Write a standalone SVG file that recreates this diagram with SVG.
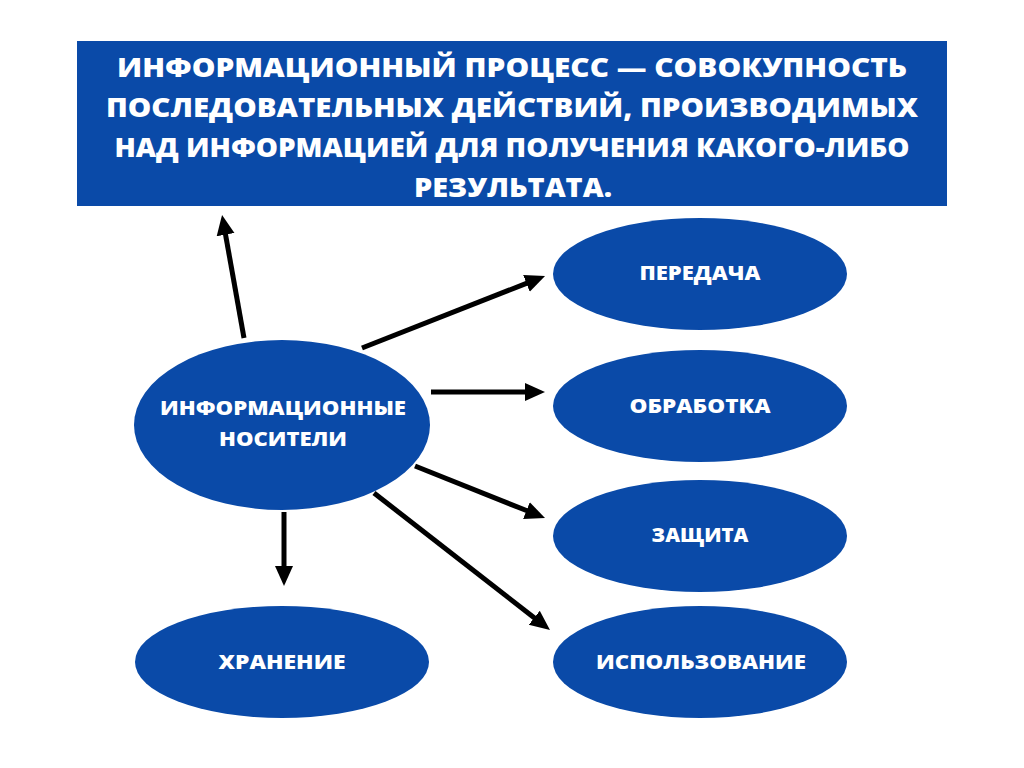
<svg xmlns="http://www.w3.org/2000/svg" width="1024" height="768" viewBox="0 0 1024 768">
<style>
.node{fill:#0a4aa8}
.t{fill:#ffffff;font-family:"Open Sans","DejaVu Sans",sans-serif;font-weight:800;text-anchor:middle;dominant-baseline:central}
.h{font-size:27px}
.n{font-size:20px}
.c{stroke:#000;stroke-width:5;fill:none;marker-end:url(#ah)}
</style>
<defs>
<marker id="ah" markerUnits="userSpaceOnUse" markerWidth="20" markerHeight="20" viewBox="0 0 20 20" refX="2" refY="10" orient="auto">
<path d="M0,1 L20,10 L0,19 z" fill="#000"/>
</marker>
</defs>
<rect width="1024" height="768" fill="#ffffff"/>
<g id="header">
<rect class="node" x="77" y="41" width="870" height="165"/>
<text class="t h" x="512" y="66" textLength="790" lengthAdjust="spacingAndGlyphs">ИНФОРМАЦИОННЫЙ ПРОЦЕСС — СОВОКУПНОСТЬ</text>
<text class="t h" x="512" y="106" textLength="812" lengthAdjust="spacingAndGlyphs">ПОСЛЕДОВАТЕЛЬНЫХ ДЕЙСТВИЙ, ПРОИЗВОДИМЫХ</text>
<text class="t h" x="512" y="146" textLength="795" lengthAdjust="spacingAndGlyphs">НАД ИНФОРМАЦИЕЙ ДЛЯ ПОЛУЧЕНИЯ КАКОГО-ЛИБО</text>
<text class="t h" x="513" y="186" textLength="198" lengthAdjust="spacingAndGlyphs">РЕЗУЛЬТАТА.</text>
</g>
<g id="connectors">
<path class="c" d="M244,338 L225.2,232.7"/>
<path class="c" d="M362,348 L528.3,282.6"/>
<path class="c" d="M431,392 L527,392"/>
<path class="c" d="M415,466 L528.3,511.3"/>
<path class="c" d="M374,493 L535.8,619"/>
<path class="c" d="M284,512 L284,568"/>
</g>
<g id="nositeli">
<ellipse class="node" cx="282" cy="425" rx="148" ry="85"/>
<text class="t n" x="283" y="407" textLength="246" lengthAdjust="spacingAndGlyphs">ИНФОРМАЦИОННЫЕ</text>
<text class="t n" x="283" y="438" textLength="128" lengthAdjust="spacingAndGlyphs">НОСИТЕЛИ</text>
</g>
<g id="peredacha">
<ellipse class="node" cx="700" cy="274" rx="147" ry="56"/>
<text class="t n" x="700" y="272" textLength="121" lengthAdjust="spacingAndGlyphs">ПЕРЕДАЧА</text>
</g>
<g id="obrabotka">
<ellipse class="node" cx="700" cy="406" rx="147" ry="56"/>
<text class="t n" x="700" y="405" textLength="141" lengthAdjust="spacingAndGlyphs">ОБРАБОТКА</text>
</g>
<g id="zashchita">
<ellipse class="node" cx="700" cy="536" rx="147" ry="56"/>
<text class="t n" x="700" y="534" textLength="97" lengthAdjust="spacingAndGlyphs">ЗАЩИТА</text>
</g>
<g id="ispolzovanie">
<ellipse class="node" cx="700" cy="662" rx="147" ry="56"/>
<text class="t n" x="701" y="661" textLength="210" lengthAdjust="spacingAndGlyphs">ИСПОЛЬЗОВАНИЕ</text>
</g>
<g id="hranenie">
<ellipse class="node" cx="282" cy="662" rx="147" ry="56"/>
<text class="t n" x="282" y="661" textLength="127" lengthAdjust="spacingAndGlyphs">ХРАНЕНИЕ</text>
</g>
</svg>
